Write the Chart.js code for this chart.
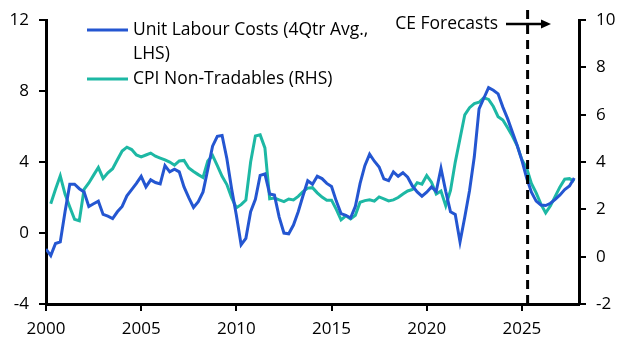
<!DOCTYPE html>
<html>
<head>
<meta charset="utf-8">
<script src="https://cdn.jsdelivr.net/npm/chart.js@4.4.1/dist/chart.umd.min.js"></script>
<style>
  html, body { margin: 0; padding: 0; background: #fff; }
  #wrap { width: 628px; height: 352px; }
</style>
</head>
<body>
<div id="wrap"><canvas id="chart" width="628" height="352"></canvas></div>
<script>
// Quarterly, 2000 Q1 .. 2027 Q4
const startYear = 2000;

// Unit labour costs, 4qtr avg, % y/y (LHS)
const ulc = [
  -0.9, -1.27, -0.59, -0.5, 1.2, 2.75, 2.75, 2.5, 2.32, 1.5,
  1.65, 1.8, 1.05, 0.95, 0.82, 1.2, 1.5, 2.1, 2.45, 2.8,
  3.2, 2.6, 3.0, 2.85, 2.77, 3.8, 3.45, 3.6, 3.45, 2.6,
  2.0, 1.44, 1.77, 2.32, 3.6, 4.9, 5.45, 5.5, 4.2, 2.5,
  1.0, -0.66, -0.3, 1.2, 1.9, 3.25, 3.33, 2.2, 2.14, 0.9,
  0.0, -0.04, 0.45, 1.2, 2.1, 2.95, 2.75, 3.2, 3.07, 2.8,
  2.62, 1.8, 1.1, 1.0, 0.85, 1.5, 2.8, 3.8, 4.45, 4.05,
  3.72, 3.05, 2.95, 3.45, 3.2, 3.4, 3.15, 2.65, 2.32, 2.08,
  2.3, 2.6, 2.35, 3.65, 2.35, 1.2, 1.05, -0.5, 0.9, 2.4,
  4.3, 7.0, 7.6, 8.2, 8.05, 7.85, 7.1, 6.45, 5.7, 4.95,
  4.1, 3.1, 2.3, 1.8, 1.58, 1.55, 1.68, 1.9, 2.15, 2.45,
  2.65, 3.1
];

// CPI non-tradables, % y/y (RHS)
const cpiNonTradables = [
  null, 2.24, 2.85, 3.42, 2.65, 2.1, 1.58, 1.52, 2.85, 3.12,
  3.45, 3.77, 3.31, 3.55, 3.72, 4.1, 4.47, 4.63, 4.53, 4.3,
  4.22, 4.3, 4.38, 4.25, 4.17, 4.09, 4.0, 3.87, 4.05, 4.07,
  3.75, 3.6, 3.47, 3.35, 4.05, 4.28, 3.85, 3.4, 3.05, 2.5,
  2.07, 2.2, 2.4, 4.0, 5.1, 5.15, 4.6, 2.45, 2.48, 2.4,
  2.33, 2.44, 2.4, 2.55, 2.75, 2.9, 2.92, 2.7, 2.52, 2.39,
  2.39, 2.0, 1.56, 1.73, 1.6, 1.75, 2.3, 2.37, 2.41, 2.35,
  2.53, 2.45, 2.36, 2.4, 2.5, 2.65, 2.78, 2.84, 3.13, 3.07,
  3.43, 3.15, 2.65, 2.78, 2.15, 2.8, 4.0, 5.0, 6.0, 6.3,
  6.47, 6.53, 6.72, 6.65, 6.35, 5.92, 5.78, 5.45, 5.1, 4.7,
  4.1, 3.75, 3.1, 2.7, 2.22, 1.85, 2.15, 2.55, 2.95, 3.28,
  3.3, 3.18
];

const quarters = ulc.map((_, i) => startYear + i / 4);

const xTicks = [2000, 2005, 2010, 2015, 2020, 2025];
const leftTicks = [-4, 0, 4, 8, 12];
const rightTicks = [-2, 0, 2, 4, 6, 8, 10];
const forecastStart = 2025.3;

const legendLines = [
  { text: ['Unit Labour Costs (4Qtr Avg.,', 'LHS)'], dataset: 0 },
  { text: ['CPI Non-Tradables (RHS)'], dataset: 1 }
];

const BLUE = '#2456d1';
const TEAL = '#1db8a4';
const FONT = "'Open Sans', 'Noto Sans', sans-serif";

const overlay = {
  id: 'overlay',
  afterDatasetsDraw(chart) {
    const { ctx, scales: { x }, chartArea } = chart;
    ctx.save();

    // forecast divider
    const fx = x.getPixelForValue(forecastStart);
    ctx.strokeStyle = '#000';
    ctx.lineWidth = 3;
    ctx.setLineDash([9, 6]);
    ctx.beginPath();
    ctx.moveTo(fx, 10);
    ctx.lineTo(fx, chartArea.bottom);
    ctx.stroke();
    ctx.setLineDash([]);

    // CE Forecasts label + arrow
    ctx.font = '17.5px ' + FONT;
    ctx.fillStyle = '#000';
    ctx.textBaseline = 'middle';
    ctx.textAlign = 'right';
    ctx.fillText('CE Forecasts', 498, 24);
    ctx.lineWidth = 2.5;
    ctx.beginPath();
    ctx.moveTo(506, 24);
    ctx.lineTo(543, 24);
    ctx.stroke();
    ctx.beginPath();
    ctx.moveTo(551, 24);
    ctx.lineTo(541, 19.5);
    ctx.lineTo(541, 28.5);
    ctx.closePath();
    ctx.fill();

    // legend
    ctx.textAlign = 'left';
    let y = 30;
    legendLines.forEach(item => {
      const ds = chart.data.datasets[item.dataset];
      ctx.strokeStyle = ds.borderColor;
      ctx.lineWidth = 3;
      ctx.beginPath();
      ctx.moveTo(87, y);
      ctx.lineTo(128, y);
      ctx.stroke();
      item.text.forEach(t => {
        ctx.fillText(t, 133, y);
        y += 24.5;
      });
    });
    ctx.restore();
  }
};

const axisCommon = {
  grid: { drawOnChartArea: false, drawTicks: true, tickLength: 7, color: '#000', lineWidth: 2 },
  border: { display: true, color: '#000', width: 3 },
};

new Chart(document.getElementById('chart'), {
  type: 'line',
  data: {
    datasets: [
      {
        label: 'Unit Labour Costs (4Qtr Avg., LHS)',
        data: quarters.map((q, i) => ({ x: q, y: ulc[i] })),
        borderColor: BLUE,
        borderWidth: 3,
        pointRadius: 0,
        tension: 0,
        yAxisID: 'y'
      },
      {
        label: 'CPI Non-Tradables (RHS)',
        data: quarters.map((q, i) => ({ x: q, y: cpiNonTradables[i] })),
        borderColor: TEAL,
        borderWidth: 3,
        pointRadius: 0,
        tension: 0,
        yAxisID: 'y1'
      }
    ]
  },
  options: {
    responsive: false,
    animation: false,
    devicePixelRatio: 1,
    layout: { padding: { top: 15, left: 0, right: 0, bottom: 0 } },
    plugins: { legend: { display: false }, tooltip: { enabled: false } },
    scales: {
      x: {
        ...axisCommon,
        type: 'linear',
        min: 2000,
        max: 2028,
        afterBuildTicks: s => { s.ticks = xTicks.map(v => ({ value: v })); },
        ticks: { color: '#000', font: { family: FONT, size: 17 }, padding: 8, maxRotation: 0,
                 callback: v => String(v) },
        afterFit: s => { s.height = 48; }
      },
      y: {
        ...axisCommon,
        position: 'left',
        min: -4,
        max: 12,
        afterBuildTicks: s => { s.ticks = leftTicks.map(v => ({ value: v })); },
        ticks: { color: '#000', font: { family: FONT, size: 17 }, padding: 10 },
        afterFit: s => { s.width = 46; }
      },
      y1: {
        ...axisCommon,
        position: 'right',
        min: -2,
        max: 10,
        afterBuildTicks: s => { s.ticks = rightTicks.map(v => ({ value: v })); },
        ticks: { color: '#000', font: { family: FONT, size: 17 }, padding: 10 },
        afterFit: s => { s.width = 49; }
      }
    }
  },
  plugins: [overlay]
});
</script>
</body>
</html>
